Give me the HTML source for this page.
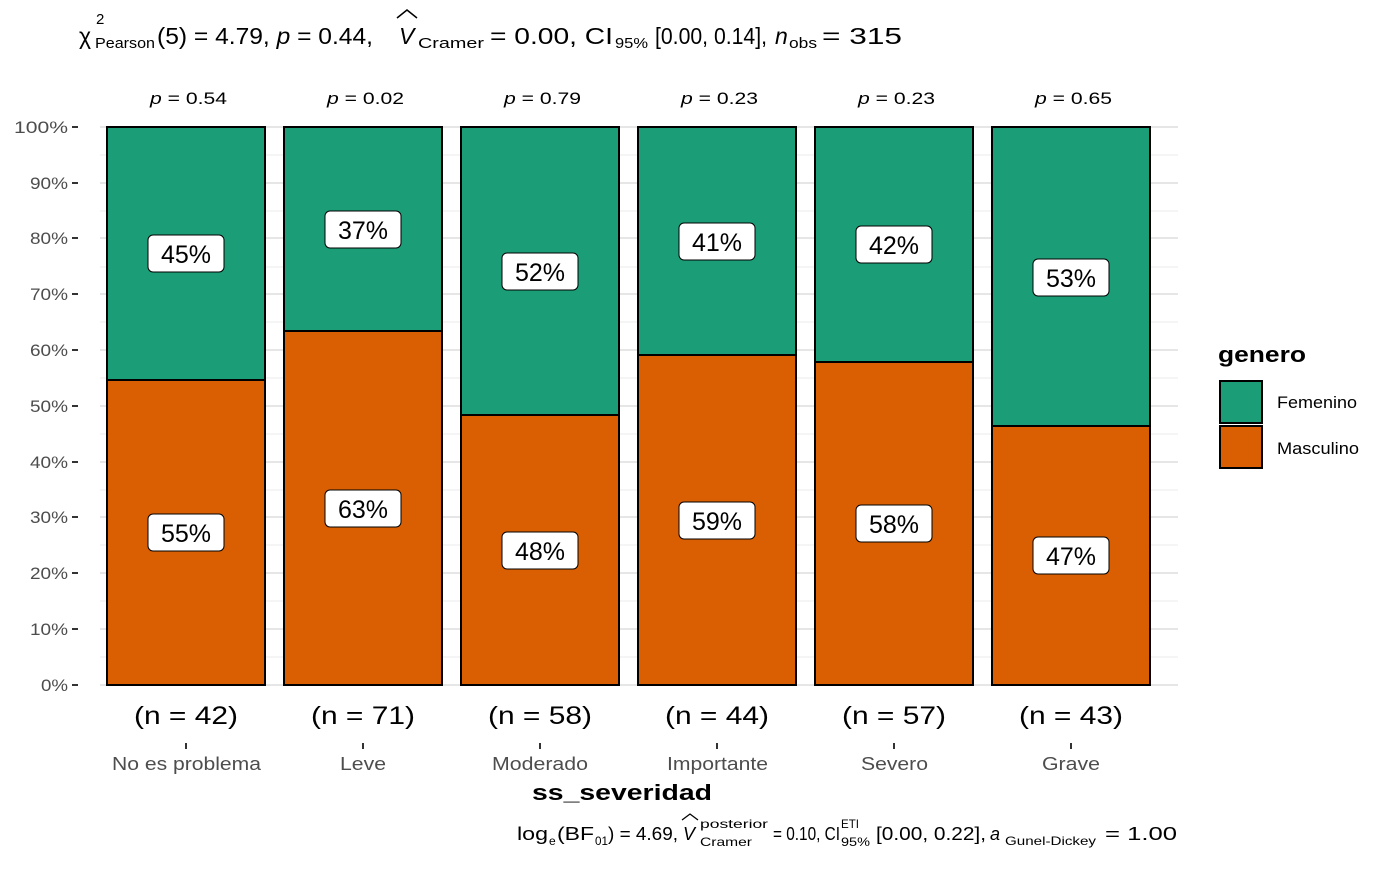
<!DOCTYPE html>
<html><head><meta charset="utf-8"><style>
body{margin:0;background:#fff;font-family:"Liberation Sans",sans-serif;}
</style></head><body>
<svg width="1400" height="865" xmlns="http://www.w3.org/2000/svg" font-family="Liberation Sans, sans-serif">
<rect width="1400" height="865" fill="#fff"/>
<g stroke="#ebebeb" stroke-width="1">
<line x1="100" x2="1178" y1="657" y2="657"/><line x1="100" x2="1178" y1="601" y2="601"/><line x1="100" x2="1178" y1="545" y2="545"/><line x1="100" x2="1178" y1="490" y2="490"/><line x1="100" x2="1178" y1="434" y2="434"/><line x1="100" x2="1178" y1="378" y2="378"/><line x1="100" x2="1178" y1="322" y2="322"/><line x1="100" x2="1178" y1="267" y2="267"/><line x1="100" x2="1178" y1="211" y2="211"/><line x1="100" x2="1178" y1="155" y2="155"/>
</g>
<g stroke="#e6e6e6" stroke-width="2">
<line x1="100" x2="1178" y1="685" y2="685"/><line x1="100" x2="1178" y1="629" y2="629"/><line x1="100" x2="1178" y1="573" y2="573"/><line x1="100" x2="1178" y1="517" y2="517"/><line x1="100" x2="1178" y1="462" y2="462"/><line x1="100" x2="1178" y1="406" y2="406"/><line x1="100" x2="1178" y1="350" y2="350"/><line x1="100" x2="1178" y1="294" y2="294"/><line x1="100" x2="1178" y1="238" y2="238"/><line x1="100" x2="1178" y1="183" y2="183"/><line x1="100" x2="1178" y1="127" y2="127"/>
</g>
<g font-size="17" fill="#4d4d4d">
<text x="41" y="691" textLength="27" lengthAdjust="spacingAndGlyphs">0%</text><text x="30" y="635" textLength="38" lengthAdjust="spacingAndGlyphs">10%</text><text x="30" y="579" textLength="38" lengthAdjust="spacingAndGlyphs">20%</text><text x="30" y="523" textLength="38" lengthAdjust="spacingAndGlyphs">30%</text><text x="30" y="468" textLength="38" lengthAdjust="spacingAndGlyphs">40%</text><text x="30" y="412" textLength="38" lengthAdjust="spacingAndGlyphs">50%</text><text x="30" y="356" textLength="38" lengthAdjust="spacingAndGlyphs">60%</text><text x="30" y="300" textLength="38" lengthAdjust="spacingAndGlyphs">70%</text><text x="30" y="244" textLength="38" lengthAdjust="spacingAndGlyphs">80%</text><text x="30" y="189" textLength="38" lengthAdjust="spacingAndGlyphs">90%</text><text x="14" y="133" textLength="54" lengthAdjust="spacingAndGlyphs">100%</text>
</g>
<g stroke="#333" stroke-width="2">
<line x1="72" x2="78" y1="685" y2="685"/><line x1="72" x2="78" y1="629" y2="629"/><line x1="72" x2="78" y1="573" y2="573"/><line x1="72" x2="78" y1="517" y2="517"/><line x1="72" x2="78" y1="462" y2="462"/><line x1="72" x2="78" y1="406" y2="406"/><line x1="72" x2="78" y1="350" y2="350"/><line x1="72" x2="78" y1="294" y2="294"/><line x1="72" x2="78" y1="238" y2="238"/><line x1="72" x2="78" y1="183" y2="183"/><line x1="72" x2="78" y1="127" y2="127"/>
<line x1="186" x2="186" y1="743" y2="749"/><line x1="363" x2="363" y1="743" y2="749"/><line x1="540" x2="540" y1="743" y2="749"/><line x1="717" x2="717" y1="743" y2="749"/><line x1="894" x2="894" y1="743" y2="749"/><line x1="1071" x2="1071" y1="743" y2="749"/>
</g>
<g stroke="#000" stroke-width="2">
<rect x="107" y="127" width="158" height="253" fill="#1b9e77"/><rect x="107" y="380" width="158" height="305" fill="#d95f02"/>
<rect x="284" y="127" width="158" height="204" fill="#1b9e77"/><rect x="284" y="331" width="158" height="354" fill="#d95f02"/>
<rect x="461" y="127" width="158" height="288" fill="#1b9e77"/><rect x="461" y="415" width="158" height="270" fill="#d95f02"/>
<rect x="638" y="127" width="158" height="228" fill="#1b9e77"/><rect x="638" y="355" width="158" height="330" fill="#d95f02"/>
<rect x="815" y="127" width="158" height="235" fill="#1b9e77"/><rect x="815" y="362" width="158" height="323" fill="#d95f02"/>
<rect x="992" y="127" width="158" height="299" fill="#1b9e77"/><rect x="992" y="426" width="158" height="259" fill="#d95f02"/>
</g>
<g stroke="#000" stroke-width="1" fill="#fff">
<rect x="148" y="235" width="76" height="37" rx="5"/><rect x="148" y="514" width="76" height="37" rx="5"/>
<rect x="325" y="211" width="76" height="37" rx="5"/><rect x="325" y="490" width="76" height="37" rx="5"/>
<rect x="502" y="253" width="76" height="37" rx="5"/><rect x="502" y="532" width="76" height="37" rx="5"/>
<rect x="679" y="223" width="76" height="37" rx="5"/><rect x="679" y="502" width="76" height="37" rx="5"/>
<rect x="856" y="226" width="76" height="37" rx="5"/><rect x="856" y="505" width="76" height="37" rx="5"/>
<rect x="1033" y="259" width="76" height="37" rx="5"/><rect x="1033" y="537" width="76" height="37" rx="5"/>
</g>
<g font-size="25" fill="#000" text-anchor="middle">
<text x="186" y="263">45%</text><text x="186" y="542">55%</text>
<text x="363" y="239">37%</text><text x="363" y="518">63%</text>
<text x="540" y="281">52%</text><text x="540" y="560">48%</text>
<text x="717" y="251">41%</text><text x="717" y="530">59%</text>
<text x="894" y="254">42%</text><text x="894" y="533">58%</text>
<text x="1071" y="287">53%</text><text x="1071" y="565">47%</text>
</g>
<g font-size="17" fill="#000">
<text x="150" y="104" textLength="77" lengthAdjust="spacingAndGlyphs"><tspan font-style="italic">p</tspan> = 0.54</text>
<text x="327" y="104" textLength="77" lengthAdjust="spacingAndGlyphs"><tspan font-style="italic">p</tspan> = 0.02</text>
<text x="504" y="104" textLength="77" lengthAdjust="spacingAndGlyphs"><tspan font-style="italic">p</tspan> = 0.79</text>
<text x="681" y="104" textLength="77" lengthAdjust="spacingAndGlyphs"><tspan font-style="italic">p</tspan> = 0.23</text>
<text x="858" y="104" textLength="77" lengthAdjust="spacingAndGlyphs"><tspan font-style="italic">p</tspan> = 0.23</text>
<text x="1035" y="104" textLength="77" lengthAdjust="spacingAndGlyphs"><tspan font-style="italic">p</tspan> = 0.65</text>
</g>
<g font-size="25" fill="#000">
<text x="134" y="724" textLength="104" lengthAdjust="spacingAndGlyphs">(n = 42)</text><text x="311" y="724" textLength="104" lengthAdjust="spacingAndGlyphs">(n = 71)</text><text x="488" y="724" textLength="104" lengthAdjust="spacingAndGlyphs">(n = 58)</text><text x="665" y="724" textLength="104" lengthAdjust="spacingAndGlyphs">(n = 44)</text><text x="842" y="724" textLength="104" lengthAdjust="spacingAndGlyphs">(n = 57)</text><text x="1019" y="724" textLength="104" lengthAdjust="spacingAndGlyphs">(n = 43)</text>
</g>
<g font-size="18" fill="#4d4d4d">
<text x="112" y="770" textLength="149" lengthAdjust="spacingAndGlyphs">No es problema</text><text x="340" y="770" textLength="46" lengthAdjust="spacingAndGlyphs">Leve</text><text x="492" y="770" textLength="96" lengthAdjust="spacingAndGlyphs">Moderado</text><text x="667" y="770" textLength="101" lengthAdjust="spacingAndGlyphs">Importante</text><text x="861" y="770" textLength="67" lengthAdjust="spacingAndGlyphs">Severo</text><text x="1042" y="770" textLength="58" lengthAdjust="spacingAndGlyphs">Grave</text>
</g>
<text x="532" y="800" font-size="22" font-weight="bold" textLength="180" lengthAdjust="spacingAndGlyphs">ss_severidad</text>
<text x="1218" y="362" font-size="22" font-weight="bold" textLength="88" lengthAdjust="spacingAndGlyphs">genero</text>
<rect x="1220" y="381" width="42" height="42" fill="#1b9e77" stroke="#000" stroke-width="2"/>
<rect x="1220" y="426" width="42" height="42" fill="#d95f02" stroke="#000" stroke-width="2"/>
<text x="1277" y="408" font-size="17" textLength="80" lengthAdjust="spacingAndGlyphs">Femenino</text>
<text x="1277" y="454" font-size="17" textLength="82" lengthAdjust="spacingAndGlyphs">Masculino</text>
<g fill="#000">
<text x="79" y="44" font-size="23">χ</text>
<text x="96" y="24" font-size="15">2</text>
<text x="95" y="48" font-size="15" textLength="60" lengthAdjust="spacingAndGlyphs">Pearson</text>
<text x="157" y="44" font-size="23" textLength="216" lengthAdjust="spacingAndGlyphs">(5) = 4.79, <tspan font-style="italic">p</tspan> = 0.44,</text>
<text x="399" y="44" font-size="23" font-style="italic">V</text>
<path d="M397 18 L407 10 L417 18" fill="none" stroke="#000" stroke-width="1.5"/>
<text x="418" y="48" font-size="15" textLength="66" lengthAdjust="spacingAndGlyphs">Cramer</text>
<text x="490" y="44" font-size="23" textLength="123" lengthAdjust="spacingAndGlyphs">= 0.00, CI</text>
<text x="615" y="48" font-size="15" textLength="33" lengthAdjust="spacingAndGlyphs">95%</text>
<text x="655" y="44" font-size="23" textLength="112" lengthAdjust="spacingAndGlyphs">[0.00, 0.14],</text>
<text x="775" y="44" font-size="23" font-style="italic">n</text>
<text x="789" y="48" font-size="15" textLength="28" lengthAdjust="spacingAndGlyphs">obs</text>
<text x="822" y="44" font-size="23" textLength="80" lengthAdjust="spacingAndGlyphs">= 315</text>
</g>
<g fill="#000">
<text x="517" y="840" font-size="18" textLength="31" lengthAdjust="spacingAndGlyphs">log</text>
<text x="549" y="845" font-size="12">e</text>
<text x="557" y="840" font-size="18" textLength="37" lengthAdjust="spacingAndGlyphs">(BF</text>
<text x="595" y="845" font-size="12" textLength="13" lengthAdjust="spacingAndGlyphs">01</text>
<text x="608" y="840" font-size="18" textLength="70" lengthAdjust="spacingAndGlyphs">) = 4.69,</text>
<text x="683" y="840" font-size="18" font-style="italic">V</text>
<path d="M682 820 L690 814 L698 820" fill="none" stroke="#000" stroke-width="1.3"/>
<text x="700" y="828" font-size="12" textLength="68" lengthAdjust="spacingAndGlyphs">posterior</text>
<text x="700" y="846" font-size="12" textLength="52" lengthAdjust="spacingAndGlyphs">Cramer</text>
<text x="773" y="840" font-size="18" textLength="67" lengthAdjust="spacingAndGlyphs">= 0.10, CI</text>
<text x="841" y="828" font-size="12" textLength="18" lengthAdjust="spacingAndGlyphs">ETI</text>
<text x="841" y="846" font-size="12" textLength="29" lengthAdjust="spacingAndGlyphs">95%</text>
<text x="876" y="840" font-size="18" textLength="110" lengthAdjust="spacingAndGlyphs">[0.00, 0.22],</text>
<text x="990" y="840" font-size="18" font-style="italic">a</text>
<text x="1005" y="845" font-size="12" textLength="91" lengthAdjust="spacingAndGlyphs">Gunel-Dickey</text>
<text x="1105" y="840" font-size="18" textLength="72" lengthAdjust="spacingAndGlyphs">= 1.00</text>
</g>
</svg>
</body></html>
